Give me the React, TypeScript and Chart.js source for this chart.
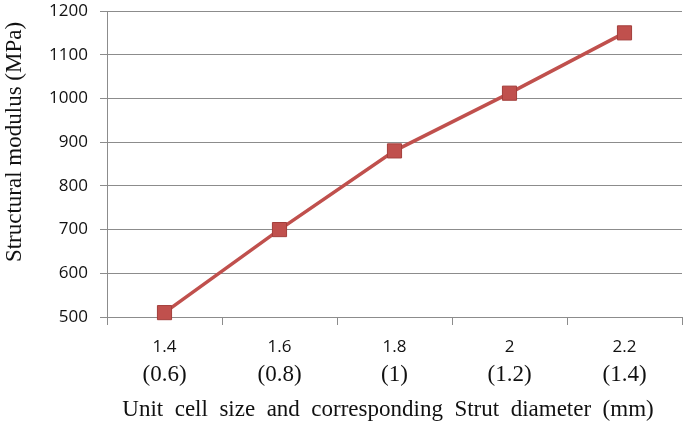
import { useEffect, useRef } from 'react';
import { Chart, registerables } from 'chart.js';

Chart.register(...registerables);

const cellSizes = ['1.4', '1.6', '1.8', '2', '2.2'];
const strutDiameters = ['(0.6)', '(0.8)', '(1)', '(1.2)', '(1.4)'];
const structuralModulus = [510, 700, 880, 1012, 1150];
const yMin = 500;
const yMax = 1200;
const yStep = 100;
const xTitle = 'Unit  cell  size  and  corresponding  Strut  diameter  (mm)';
const yTitle = 'Structural modulus (MPa)';

const GRID = '#8c8c8c';
const SERIF = '"Liberation Serif", "Times New Roman", serif';
const SANS = '"Open Sans", sans-serif';

export default function App() {
  const ref = useRef<HTMLCanvasElement | null>(null);

  useEffect(() => {
    if (!ref.current) return;
    const extraText = {
      id: 'extraText',
      afterDraw(chart: any) {
        const ctx = chart.ctx;
        const xs = chart.scales.x;
        ctx.save();
        ctx.fillStyle = '#111';
        ctx.font = `23px ${SERIF}`;
        ctx.textAlign = 'center';
        ctx.textBaseline = 'middle';
        strutDiameters.forEach((s, i) => {
          ctx.fillText(s, xs.getPixelForValue(i), xs.top + 58);
        });
        ctx.fillText(xTitle, 388, xs.top + 93);
        ctx.translate(15, 142);
        ctx.rotate(-Math.PI / 2);
        ctx.fillText(yTitle, 0, 0);
        ctx.restore();
      },
    };
    const chart = new Chart(ref.current, {
      type: 'line',
      data: {
        labels: cellSizes,
        datasets: [
          {
            data: structuralModulus,
            borderColor: '#C0504D',
            backgroundColor: '#C0504D',
            borderWidth: 3.5,
            pointStyle: 'rect',
            pointRadius: 10,
            pointHoverRadius: 10,
            pointBackgroundColor: '#C0504D',
            pointBorderColor: '#A33E3B',
            pointBorderWidth: 1,
            tension: 0,
            clip: false,
          },
        ],
      },
      options: {
        animation: false,
        responsive: false,
        devicePixelRatio: 1,
        layout: { autoPadding: false, padding: { top: 11, right: 3, left: 0, bottom: 0 } },
        plugins: { legend: { display: false }, tooltip: { enabled: false } },
        scales: {
          x: {
            offset: true,
            grid: {
              offset: true,
              drawOnChartArea: false,
              drawTicks: true,
              tickLength: 8,
              color: GRID,
            },
            border: { display: true, color: GRID },
            ticks: {
              color: '#111',
              font: { family: SANS, size: 17 },
              padding: 12,
              maxRotation: 0,
            },
            afterFit(scale: any) {
              scale.height = 113;
              scale.paddingLeft = 0;
              scale.paddingRight = 0;
            },
          },
          y: {
            min: yMin,
            max: yMax,
            grid: { color: GRID, tickLength: 7, drawTicks: true },
            border: { display: true, color: GRID },
            ticks: {
              stepSize: yStep,
              color: '#111',
              font: { family: SANS, size: 17 },
              padding: 12,
              callback: (v: any) => String(v),
            },
            afterFit(scale: any) {
              scale.width = 107;
              scale.paddingTop = 0;
              scale.paddingBottom = 0;
            },
          },
        },
      },
      plugins: [extraText],
    });
    return () => chart.destroy();
  }, []);

  return (
    <div style={{ position: 'fixed', left: 0, top: 0, width: 685, height: 430, background: '#fff' }}>
      <canvas ref={ref} width={685} height={430} style={{ width: 685, height: 430 }} />
    </div>
  );
}
